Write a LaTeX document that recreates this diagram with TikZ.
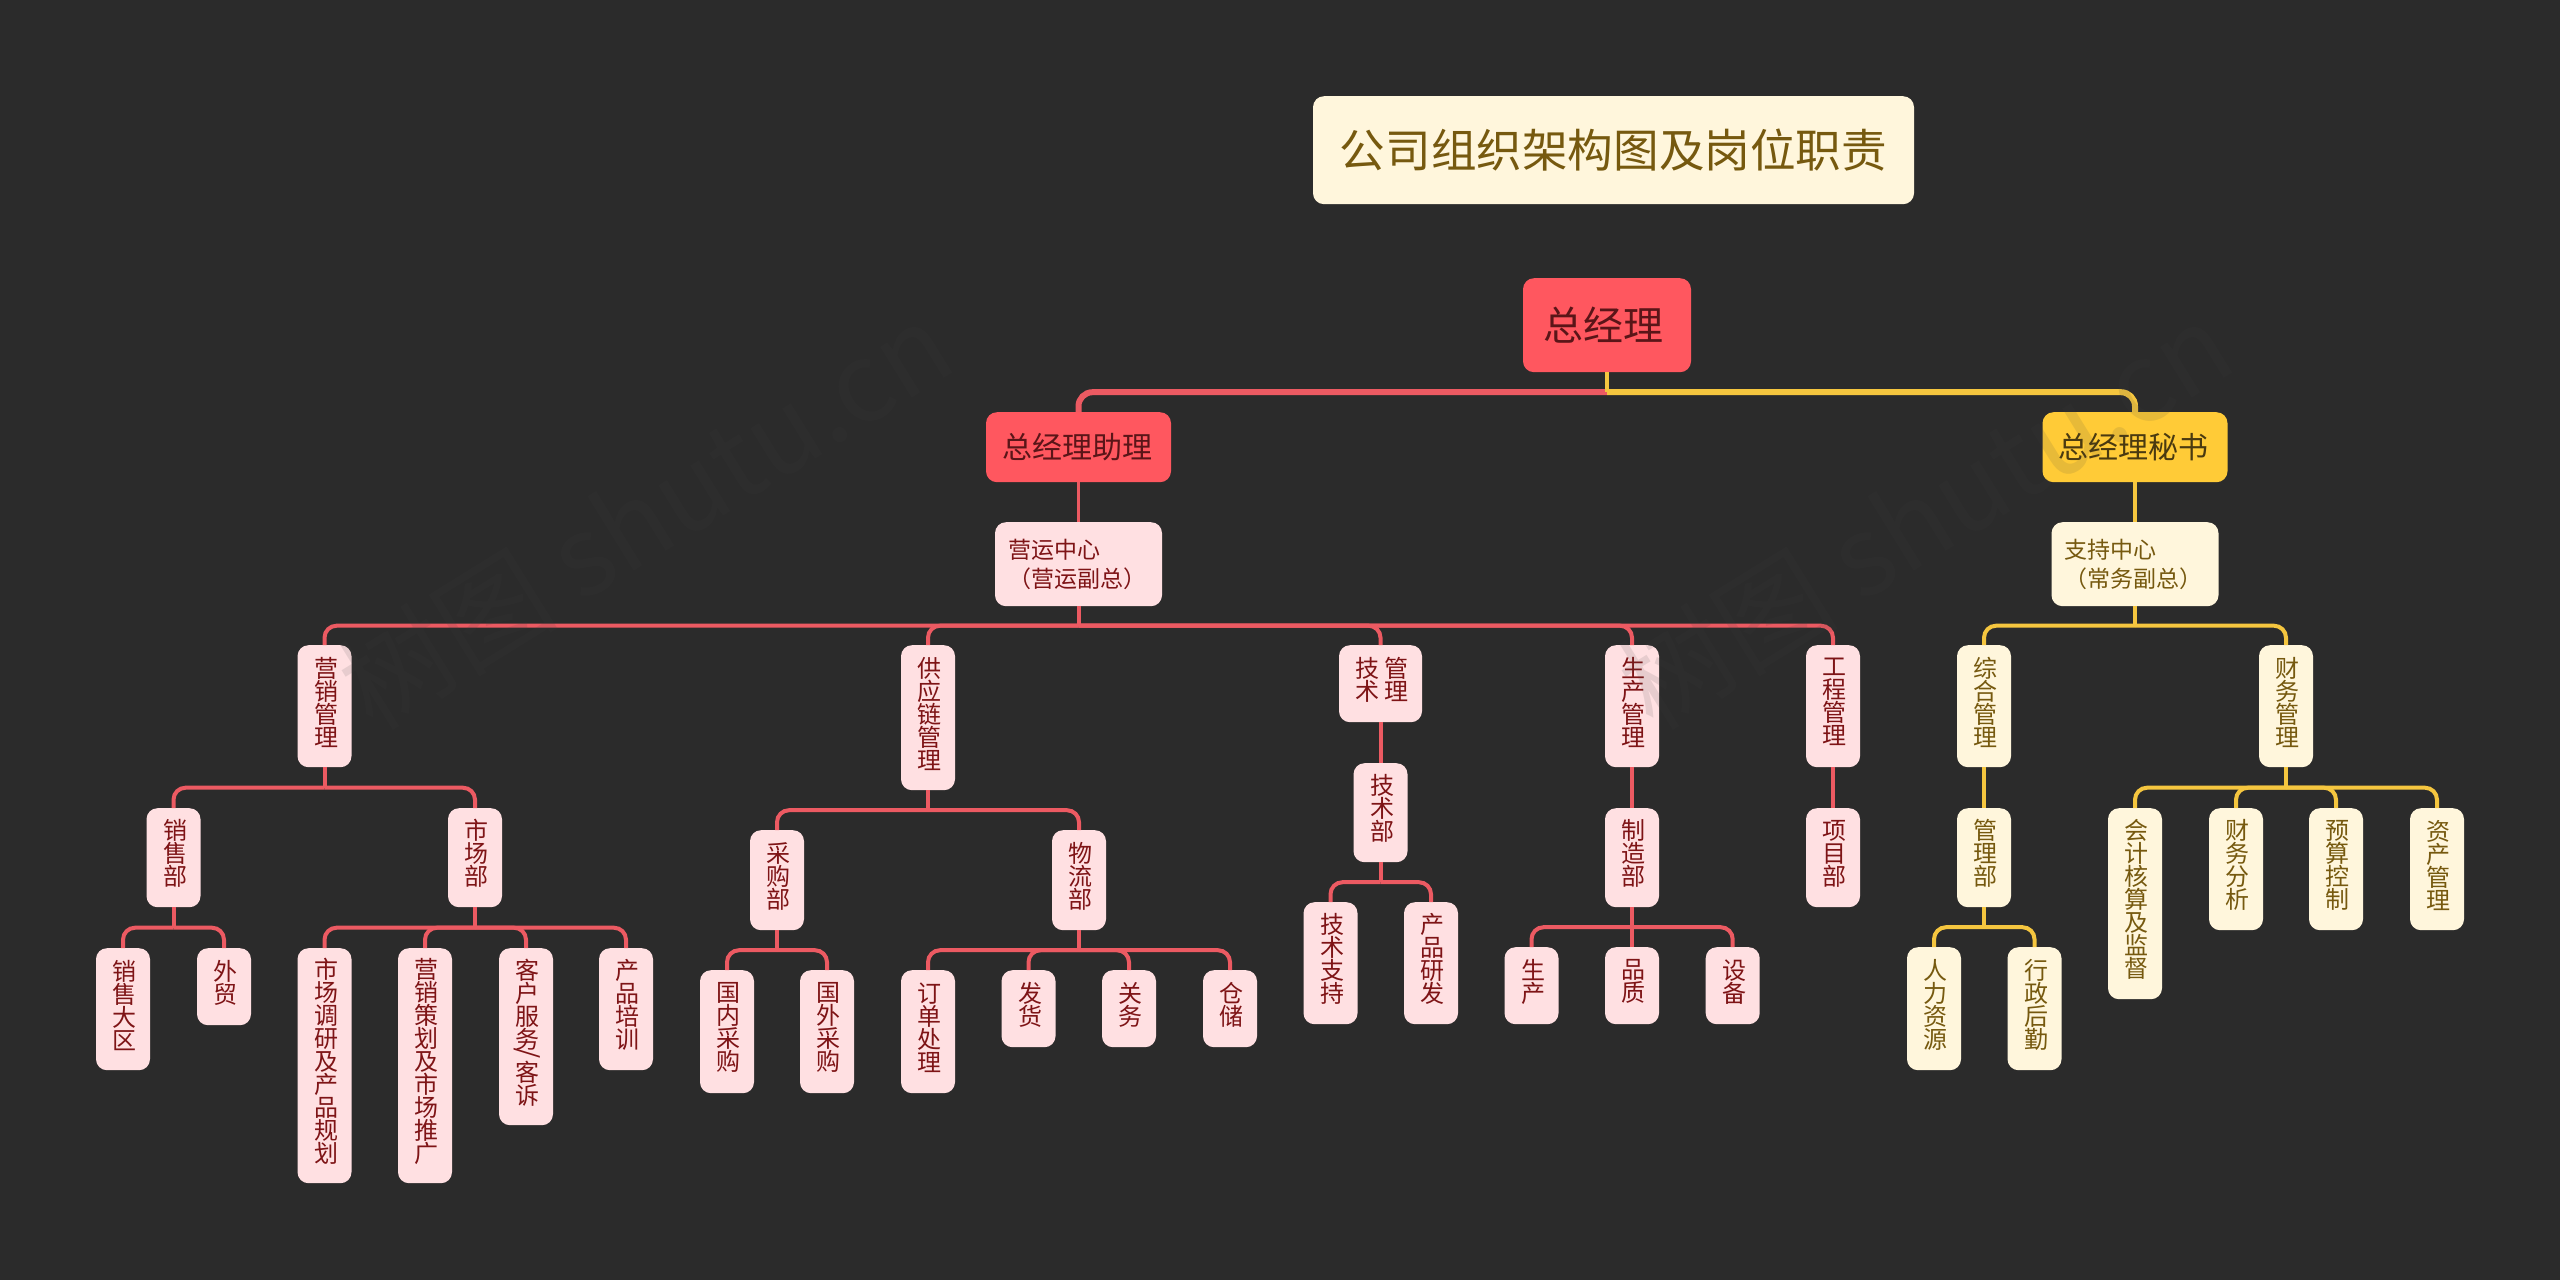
\documentclass[tikz,border=0pt]{standalone}
\usepackage{fontspec}
\setmainfont{Noto Sans CJK SC}
\usetikzlibrary{calc}
\definecolor{bgc}{HTML}{2B2B2B}
\definecolor{redb}{HTML}{FF575F}
\definecolor{yelb}{HTML}{FFCB37}
\definecolor{pinkb}{HTML}{FFE0E2}
\definecolor{creamb}{HTML}{FFF6DC}
\definecolor{redl}{HTML}{EC5A62}
\definecolor{yell}{HTML}{F5C63F}
\definecolor{redt}{HTML}{7E1416}
\definecolor{yelt}{HTML}{76590F}
\definecolor{dkt}{HTML}{5A1518}
\definecolor{dky}{HTML}{4A3A10}
\newcommand{\vt}[1]{\hskip3pt\parbox[c]{26pt}{\centering\fontsize{24}{23}\selectfont #1\par\vspace{8pt}}}
\newcommand{\bx}[7]{\node[#6,anchor=north,minimum width=#4pt,minimum height=#5pt] (#1) at (#2,#3) {#7};}
\newcommand{\rb}[5]{\bx{#1}{#2}{#3}{54}{#4}{pinkn}{\vt{#5}}}
\newcommand{\yb}[5]{\bx{#1}{#2}{#3}{54}{#4}{creamn}{\vt{#5}}}
\newcommand{\rc}[2]{\coordinate (m) at ($(#1.south)!.5!(#1.south |- #2.north)$);
  \draw[redlink,rounded corners=12pt] (m) -| (#2.north); \draw[redlink] (#1.south) -- (m);}
\newcommand{\yc}[2]{\coordinate (m) at ($(#1.south)!.5!(#1.south |- #2.north)$);
  \draw[yellink,rounded corners=12pt] (m) -| (#2.north); \draw[yellink] (#1.south) -- (m);}
\tikzset{
  boxn/.style={rectangle,rounded corners=11pt,inner sep=0pt,draw=none},
  pinkn/.style={boxn,fill=pinkb,text=redt},
  creamn/.style={boxn,fill=creamb,text=yelt},
  redlink/.style={draw=redl,line width=4pt},
  yellink/.style={draw=yell,line width=4pt},
  wmark/.style={inner sep=0pt,text=gray!50!black,text opacity=.12,font=\fontsize{110}{110}\selectfont,rotate=31.8}
}
\begin{document}
\begin{tikzpicture}[x=1pt,y=-1pt]
\useasboundingbox (0,0) rectangle (2560,1280);
\fill[bgc] (0,0) rectangle (2560,1280);
% top
\bx{title}{1613.5}{96}{601}{108}{boxn,fill=creamb,text=yelt,font=\fontsize{45.6}{45.6}\selectfont}{公司组织架构图及岗位职责}
\bx{root}{1607}{278}{168}{94}{boxn,fill=redb,text=dkt,font=\fontsize{40}{40}\selectfont}{总经理\hskip8pt\null}
\bx{asst}{1078.5}{412}{185}{70}{boxn,fill=redb,text=dkt,font=\fontsize{30}{30}\selectfont}{总经理助理\hskip3pt\null}
\bx{secr}{2135}{412}{185}{70}{boxn,fill=yelb,text=dky,font=\fontsize{30}{30}\selectfont}{总经理秘书\hskip3pt\null}
\bx{ops}{1078.5}{522}{167}{84}{pinkn,inner xsep=13pt,text width=141pt,align=left,font=\fontsize{23}{29}\selectfont}{营运中心\\（营运副总）}
\bx{sup}{2135}{522}{167}{84}{creamn,inner xsep=13pt,text width=141pt,align=left,font=\fontsize{23}{29}\selectfont}{支持中心\\（常务副总）}
% level 3 red
\rb{yx}{324.5}{645}{122}{营\\销\\管\\理}
\rb{gy}{928}{645}{145}{供\\应\\链\\管\\理}
\bx{js}{1380.5}{645}{83}{77}{pinkn}{\hskip3pt\parbox[c]{60pt}{\centering\fontsize{24}{23}\selectfont 技\hskip6pt 管\\术\hskip6pt 理\par\vspace{8pt}}}
\rb{sc}{1632}{645}{122}{生\\产\\管\\理}
\rb{gc}{1833}{645}{122}{工\\程\\管\\理}
% level 3 yellow
\yb{zh}{1984}{645}{122}{综\\合\\管\\理}
\yb{cw}{2286}{645}{122}{财\\务\\管\\理}
% level 4
\rb{xsb}{173.5}{808}{99}{销\\售\\部}
\rb{scb}{475}{808}{99}{市\\场\\部}
\rb{cgb}{777}{830}{100}{采\\购\\部}
\rb{wlb}{1079}{830}{100}{物\\流\\部}
\rb{jsb}{1380.5}{763}{99}{技\\术\\部}
\rb{zzb}{1632}{808}{99}{制\\造\\部}
\rb{xmb}{1833}{808}{99}{项\\目\\部}
\yb{glb}{1984}{808}{99}{管\\理\\部}
% leaves
\rb{a1}{123}{948}{122}{销\\售\\大\\区}
\rb{a2}{224}{948}{77}{外\\贸}
\rb{b1}{324.5}{948}{235}{市\\场\\调\\研\\及\\产\\品\\规\\划}
\rb{b2}{425}{948}{235}{营\\销\\策\\划\\及\\市\\场\\推\\广}
\rb{b3}{526}{948}{177}{客\\户\\服\\务\\[-13pt]\rotatebox{90}{\fontsize{27}{27}\selectfont /}\\客\\诉}
\rb{b4}{626}{948}{122}{产\\品\\培\\训}
\rb{c1}{727}{970}{123}{国\\内\\采\\购}
\rb{c2}{827}{970}{123}{国\\外\\采\\购}
\rb{d1}{928}{970}{123}{订\\单\\处\\理}
\rb{d2}{1028.5}{970}{77}{发\\货}
\rb{d3}{1129}{970}{77}{关\\务}
\rb{d4}{1230}{970}{77}{仓\\储}
\rb{e1}{1330.5}{902}{122}{技\\术\\支\\持}
\rb{e2}{1431}{902}{122}{产\\品\\研\\发}
\rb{f1}{1531.5}{947}{77}{生\\产}
\rb{f2}{1632}{947}{77}{品\\质}
\rb{f3}{1732.7}{947}{77}{设\\备}
\yb{g1}{1934}{947}{123}{人\\力\\资\\源}
\yb{g2}{2034.5}{947}{123}{行\\政\\后\\勤}
\yb{h1}{2135}{808}{191}{会\\计\\核\\算\\及\\监\\督}
\yb{h2}{2236}{808}{122}{财\\务\\分\\析}
\yb{h3}{2336}{808}{122}{预\\算\\控\\制}
\yb{h4}{2437}{808}{122}{资\\产\\管\\理}
% connectors
\coordinate (rm) at ($(root.south)!.5!(root.south |- asst.north)$);
\draw[redlink,line width=6pt,rounded corners=14pt] (rm) -| (asst.north);
\draw[yellink,line width=6pt,rounded corners=14pt] (rm) -| (secr.north);
\draw[yellink,line width=3.5pt] (root.south) -- (rm);
\draw[redlink,line width=3.5pt] (asst.south) -- (ops.north);
\draw[yellink,line width=3.5pt] (secr.south) -- (sup.north);
\rc{ops}{yx}\rc{ops}{gy}\rc{ops}{js}\rc{ops}{sc}\rc{ops}{gc}
\yc{sup}{zh}\yc{sup}{cw}
\rc{yx}{xsb}\rc{yx}{scb}
\rc{xsb}{a1}\rc{xsb}{a2}
\rc{scb}{b1}\rc{scb}{b2}\rc{scb}{b3}\rc{scb}{b4}
\rc{gy}{cgb}\rc{gy}{wlb}
\rc{cgb}{c1}\rc{cgb}{c2}
\rc{wlb}{d1}\rc{wlb}{d2}\rc{wlb}{d3}\rc{wlb}{d4}
\rc{js}{jsb}
\rc{jsb}{e1}\rc{jsb}{e2}
\rc{sc}{zzb}
\rc{zzb}{f1}\rc{zzb}{f2}\rc{zzb}{f3}
\rc{gc}{xmb}
\yc{zh}{glb}
\yc{glb}{g1}\yc{glb}{g2}
\yc{cw}{h1}\yc{cw}{h2}\yc{cw}{h3}\yc{cw}{h4}
% watermark
\node[wmark] (wm1) at (645,515) {树图 shutu.cn};
\node[wmark] (wm2) at (1925,515) {树图 shutu.cn};
\end{tikzpicture}
\end{document}
